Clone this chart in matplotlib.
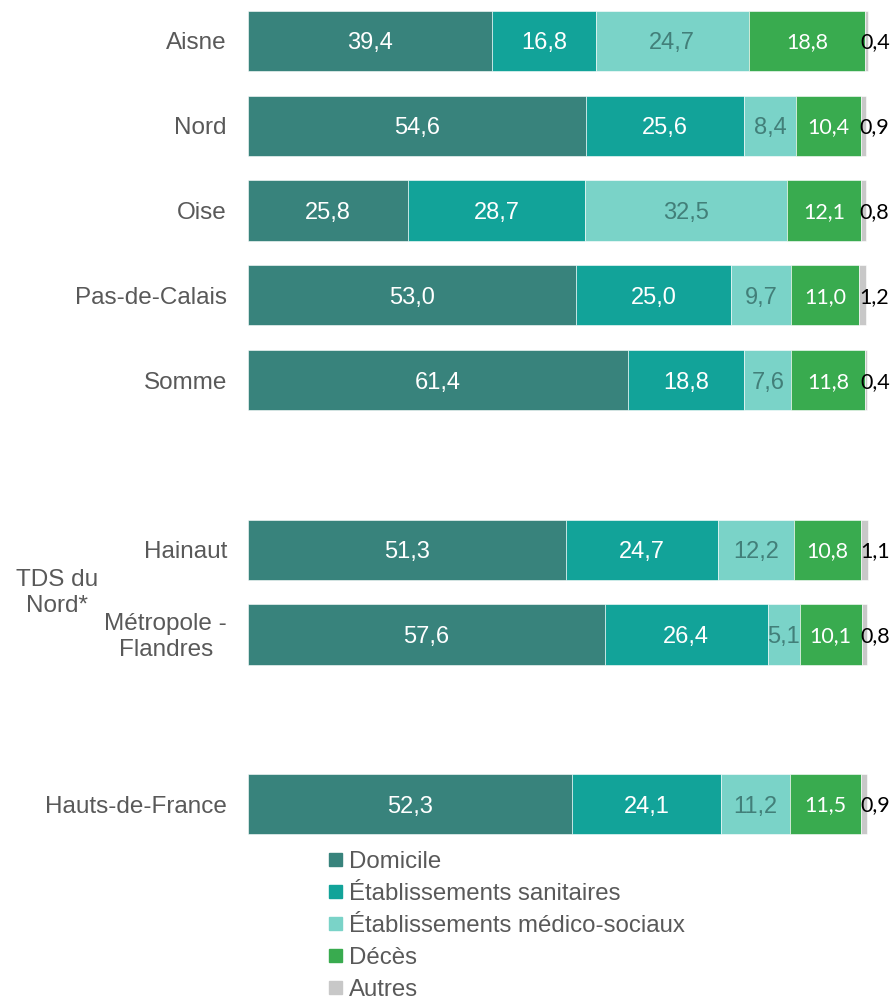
import numpy as np
import matplotlib.pyplot as plt
from matplotlib.patches import Rectangle

# Lieu de sortie (%) par territoire
territoires = ['Aisne', 'Nord', 'Oise', 'Pas-de-Calais', 'Somme',
               'Hainaut', 'Métropole -\nFlandres', 'Hauts-de-France']
positions = [0, 1, 2, 3, 4, 6, 7, 9]

categories = ['Domicile', 'Établissements sanitaires', 'Établissements médico-sociaux',
              'Décès', 'Autres']
domicile = [39.4, 54.6, 25.8, 53.0, 61.4, 51.3, 57.6, 52.3]
sanitaires = [16.8, 25.6, 28.7, 25.0, 18.8, 24.7, 26.4, 24.1]
medico_sociaux = [24.7, 8.4, 32.5, 9.7, 7.6, 12.2, 5.1, 11.2]
deces = [18.8, 10.4, 12.1, 11.0, 11.8, 10.8, 10.1, 11.5]
autres = [0.4, 0.9, 0.8, 1.2, 0.4, 1.1, 0.8, 0.9]

series = [domicile, sanitaires, medico_sociaux, deces, autres]
couleurs = ['#38837c', '#12a399', '#7ad3c8', '#39ab4f', '#c8c8c8']
couleurs_texte = ['white', 'white', '#427f79', 'white', 'black']
gris = '#595959'
police_calibri = ['Lato', 'DejaVu Sans']
taille = 17.5

plt.rcParams['font.family'] = ['Liberation Sans', 'DejaVu Sans']

W, H = 895, 1001
fig = plt.figure(figsize=(W / 100, H / 100), dpi=100)

# axes placees en pixels : 0..100 % entre x=248 et x=867
slot = 84.8
top_px = 41 - 0.45 * slot
bot_px = 804 + 0.45 * slot
ax = fig.add_axes([248 / W, 1 - bot_px / H, (867 - 248) / W, (bot_px - top_px) / H])

left = np.zeros(len(territoires))
for i, vals in enumerate(series):
    ax.barh(positions, vals, left=left, height=0.71, color=couleurs[i],
            edgecolor='white', linewidth=0.4, label=categories[i], clip_on=False)
    for y, l, v in zip(positions, left, vals):
        txt = f'{v:.1f}'.replace('.', ',')
        if i == 4:
            ax.annotate(txt, (l + v, y), xytext=(-7, -7.5), textcoords='offset pixels',
                        ha='left', va='baseline', fontsize=15.5, annotation_clip=False,
                        color=couleurs_texte[i], family=police_calibri)
        elif i == 3:
            ax.annotate(txt, (l + v / 2, y), xytext=(0, -7.5), textcoords='offset pixels',
                        ha='center', va='baseline', fontsize=15.5,
                        color=couleurs_texte[i], family=police_calibri)
        else:
            ax.annotate(txt, (l + v / 2, y), xytext=(0, -8.5), textcoords='offset pixels',
                        ha='center', va='baseline', fontsize=17,
                        color=couleurs_texte[i])
    left += np.array(vals)

ax.set_xlim(0, 100)
ax.set_ylim(9.45, -0.45)
ax.set_xticks([])
ax.set_yticks([])
for s in ax.spines.values():
    s.set_visible(False)

# libelles des territoires
def libelle(txt, y, dx):
    ax.annotate(txt, (0, y), xytext=(dx, -8.5), textcoords='offset pixels',
                ha='right', va='baseline', fontsize=taille, color=gris)

for y, nom in zip(positions, territoires):
    if nom.startswith('Métropole'):
        libelle('Métropole -', y - 0.155, -21)
        libelle('Flandres', y + 0.155, -35)
    else:
        libelle(nom, y, -21)

fig.text(57 / W, 1 - 593 / H, 'TDS du\nNord*', ha='center', va='center',
         fontsize=taille, color=gris, linespacing=1.2)

# legende : carres de couleur + texte, une ligne tous les 32 px
for k, (nom, c) in enumerate(zip(categories, couleurs)):
    yc = 859 + 32.2 * k
    fig.patches.append(Rectangle((329 / W, 1 - (yc + 6.5) / H), 13 / W, 13 / H,
                                 transform=fig.transFigure, color=c))
    fig.text(349 / W, 1 - (yc + 8.5) / H, nom, ha='left', va='baseline',
             fontsize=17.3, color=gris)

fig.savefig('out.png', dpi=100)
